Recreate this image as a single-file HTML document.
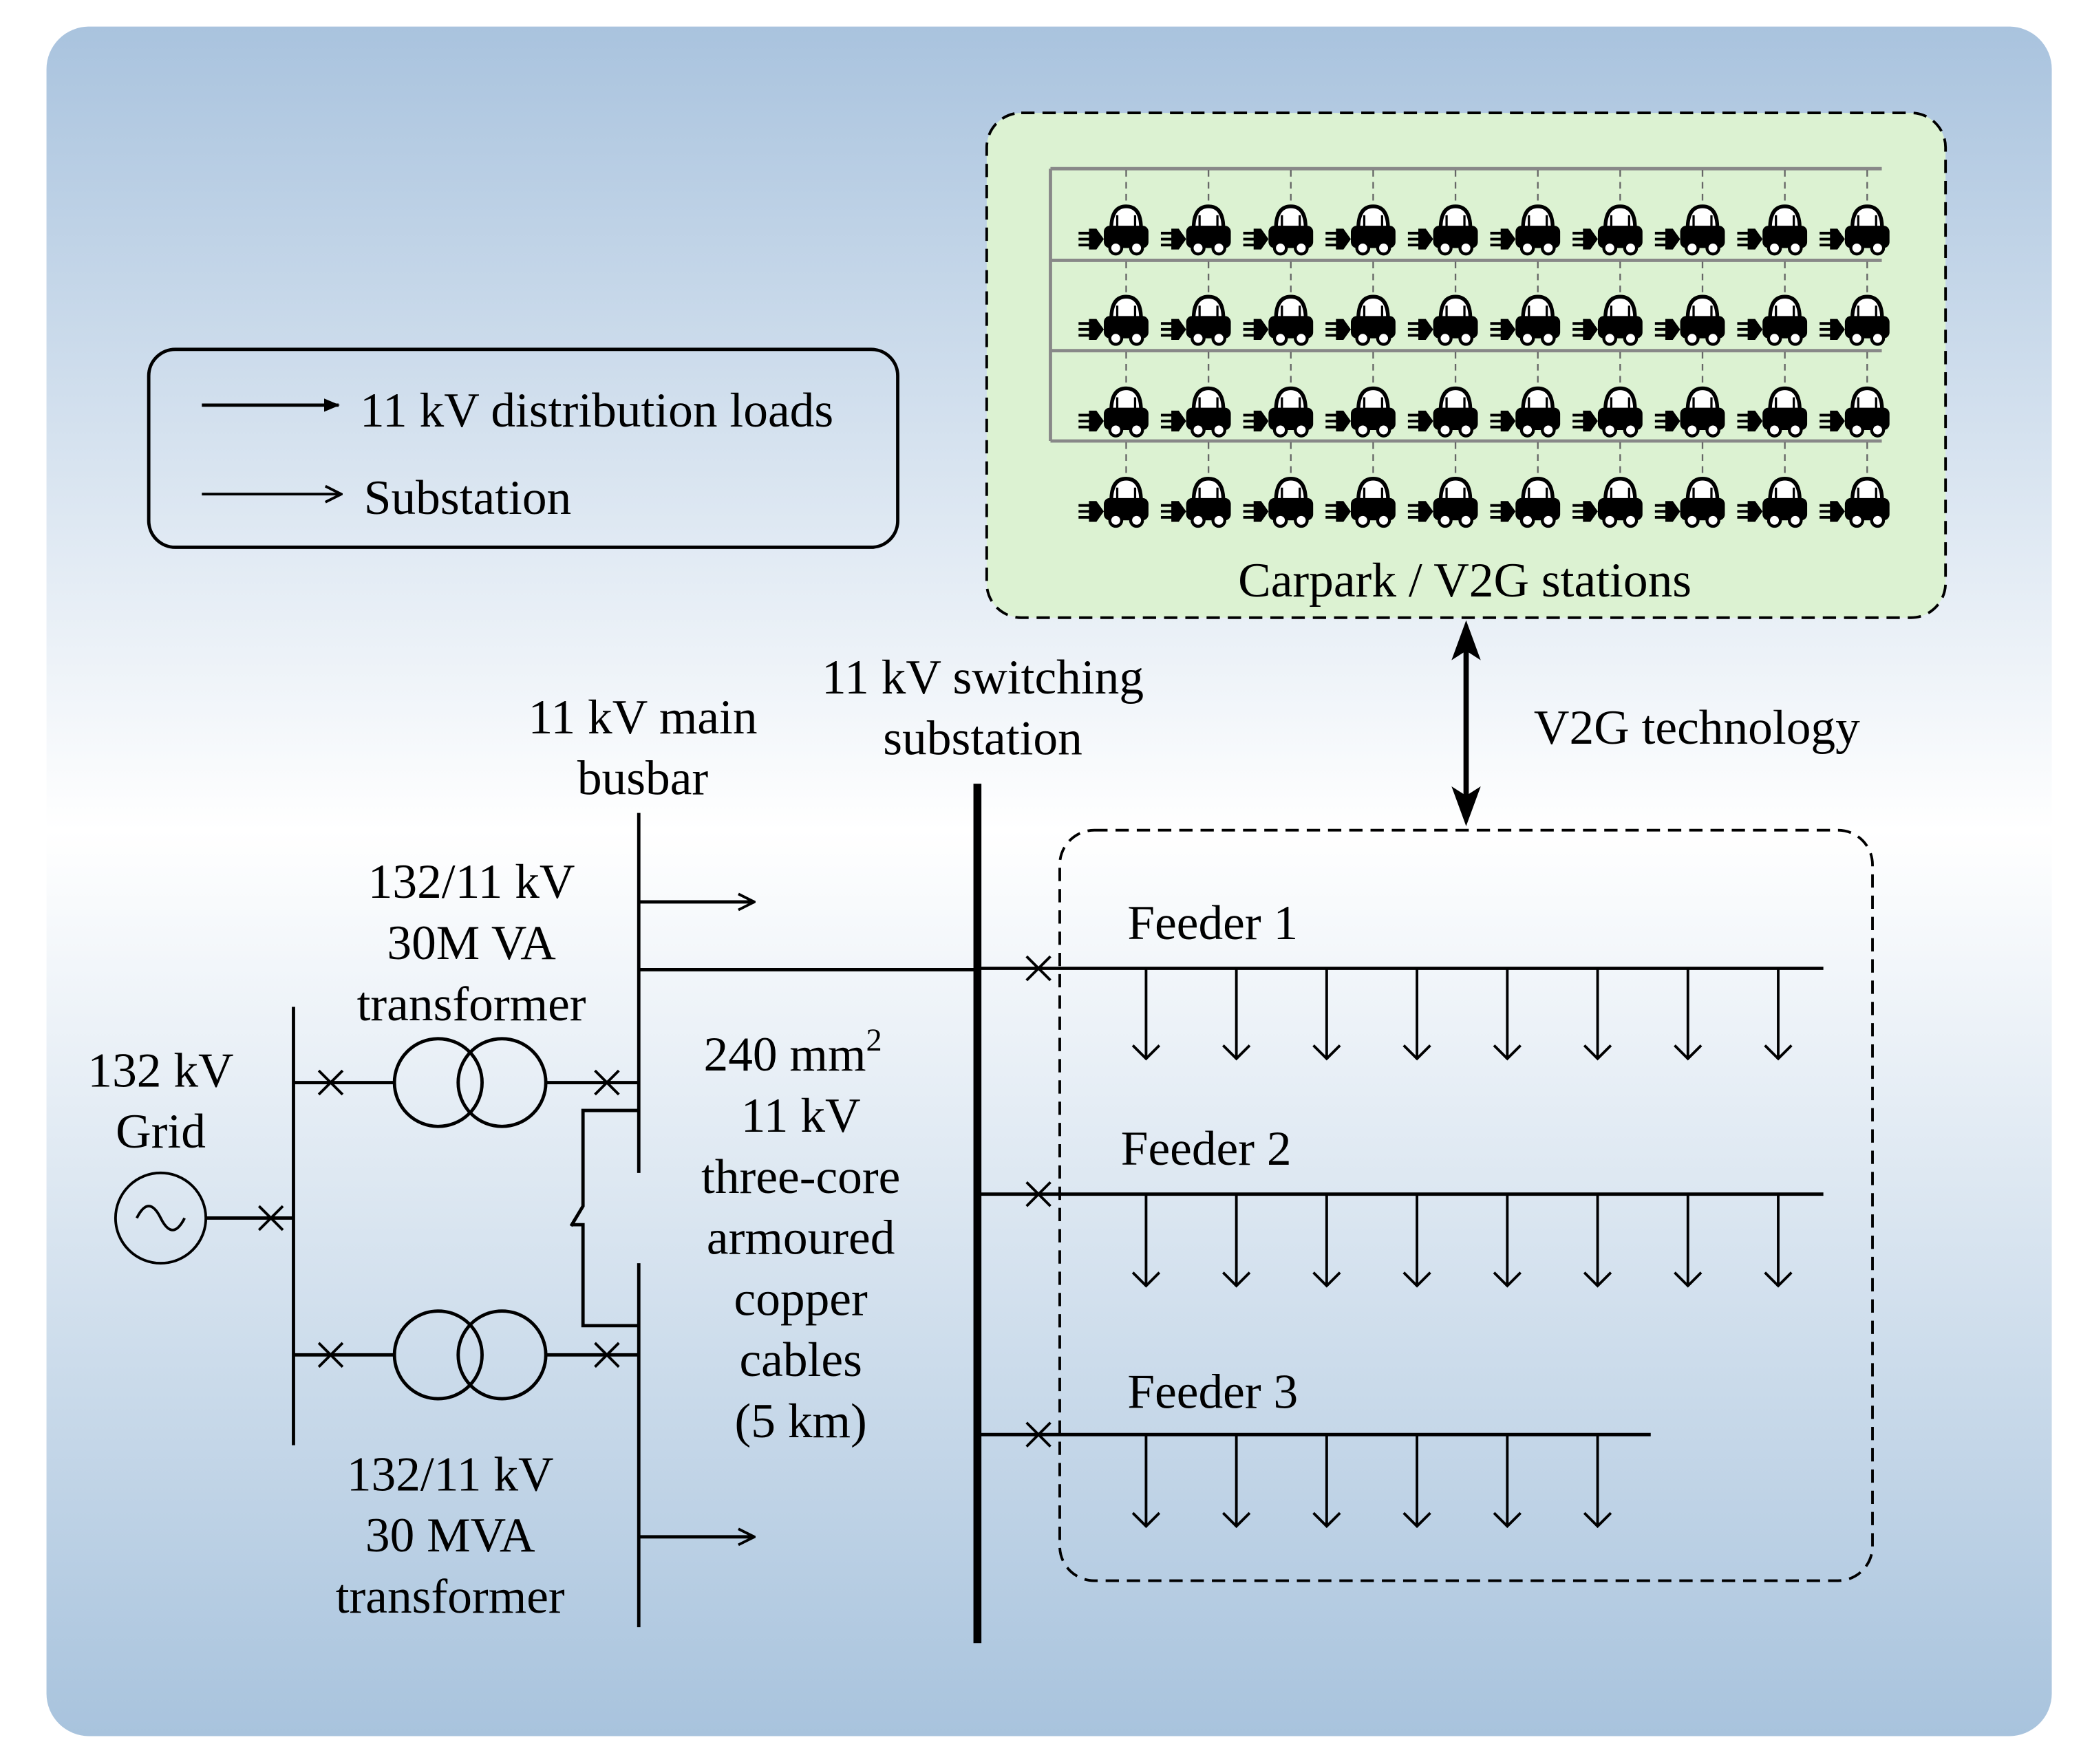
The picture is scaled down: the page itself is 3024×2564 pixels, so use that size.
<!DOCTYPE html>
<html><head><meta charset="utf-8"><style>html,body{margin:0;padding:0;background:#fff}svg{display:block}</style></head>
<body>
<svg width="3024" height="2564" viewBox="0 0 1567 1328" preserveAspectRatio="none" xmlns="http://www.w3.org/2000/svg" font-family="Liberation Serif, serif" font-size="37">
<defs>
<linearGradient id="bg" x1="0" y1="0" x2="0" y2="1">
<stop offset="0" stop-color="#a9c3de"/><stop offset="0.47" stop-color="#ffffff"/><stop offset="1" stop-color="#a8c3dd"/>
</linearGradient>
<marker id="fa" markerWidth="12" markerHeight="10" refX="11" refY="5" orient="auto" markerUnits="userSpaceOnUse"><path d="M0,0 L12,5 L0,10 Z" fill="#000"/></marker>
<marker id="oa" markerWidth="14" markerHeight="14" refX="13" refY="7" orient="auto" markerUnits="userSpaceOnUse"><path d="M1,1 L13,7 L1,13" fill="none" stroke="#000" stroke-width="2"/></marker>
<g id="car0">
<path d="M-10,-7 Q-10,-22 0,-22 Q10,-22 10,-7 Z" fill="#fff" stroke="#000" stroke-width="2.5"/>
<path d="M-6,-8 L-6,-16 M6,-8 L6,-16" stroke="#000" stroke-width="1.5"/>
<rect x="-15" y="-9" width="30" height="15" rx="4" fill="#000"/>
<circle cx="-7" cy="6" r="4" fill="#fff" stroke="#000" stroke-width="2"/>
<circle cx="7" cy="6" r="4" fill="#fff" stroke="#000" stroke-width="2"/>
<path d="M-32,-4 L-24,-4 M-32,0 L-24,0 M-32,4 L-24,4" stroke="#000" stroke-width="1.8"/>
<path d="M-25,-7 L-20,-7 L-15,0 L-20,7 L-25,7 Z" fill="#000"/>
</g>
<g id="car"><use href="#car0" transform="scale(1.12)"/></g>
</defs>
<rect x="35" y="20" width="1510" height="1287" rx="32" fill="url(#bg)"/>
<rect x="743" y="85" width="722" height="380" rx="26" fill="#dcf2d2" stroke="#000" stroke-width="2" stroke-dasharray="10,6"/>
<g stroke="#888" stroke-width="2.5" fill="none">
<path d="M791,127 H1417 M791,196 H1417 M791,264 H1417 M791,332 H1417 M791,127 V332"/>
</g>
<g stroke="#666" stroke-width="1.2" stroke-dasharray="5,4" fill="none">
<path id="cords" d="M848,128 V155 M910,128 V155 M972,128 V155 M1034,128 V155 M1096,128 V155 M1158,128 V155 M1220,128 V155 M1282,128 V155 M1344,128 V155 M1406,128 V155"/>
<use href="#cords" y="69"/><use href="#cords" y="137"/><use href="#cords" y="205"/>
</g>
<g id="row">
<use href="#car" x="848" y="180"/><use href="#car" x="910" y="180"/><use href="#car" x="972" y="180"/><use href="#car" x="1034" y="180"/><use href="#car" x="1096" y="180"/><use href="#car" x="1158" y="180"/><use href="#car" x="1220" y="180"/><use href="#car" x="1282" y="180"/><use href="#car" x="1344" y="180"/><use href="#car" x="1406" y="180"/>
</g>
<use href="#row" y="68"/><use href="#row" y="137"/><use href="#row" y="205"/>
<text x="1103" y="449" text-anchor="middle">Carpark / V2G stations</text>
<rect x="112" y="263" width="564" height="149" rx="20" fill="none" stroke="#000" stroke-width="2.5"/>
<line x1="152" y1="305" x2="255" y2="305" stroke="#000" stroke-width="2.5" marker-end="url(#fa)"/>
<line x1="152" y1="372" x2="257" y2="372" stroke="#000" stroke-width="2" marker-end="url(#oa)"/>
<text x="271" y="321">11 kV distribution loads</text>
<text x="274" y="387">Substation</text>
<line x1="1104" y1="490" x2="1104" y2="600" stroke="#000" stroke-width="4"/>
<path d="M1104,467 L1115,497 L1104,490 L1093,497 Z M1104,622 L1115,592 L1104,599 L1093,592 Z" fill="#000"/>
<text x="1155" y="560">V2G technology</text>
<rect x="798" y="625" width="612" height="565" rx="26" fill="none" stroke="#000" stroke-width="2" stroke-dasharray="10,6"/>
<g stroke="#000" stroke-width="2.5" fill="none">
<line x1="736" y1="590" x2="736" y2="1237" stroke-width="6"/>
<path d="M481,612 V883 M481,951 V1225"/>
<path d="M481,730 H736 M736,729 H1373 M736,899 H1373 M736,1080 H1243"/>
<path d="M221,758 V1088 M155,917 H221"/>
<path d="M221,815 H297 M411,815 H481 M221,1020 H297 M411,1020 H481"/>
<path d="M481,836 H439 V908 L430,923 M430,922 H439 V998 H481"/>
<circle cx="121" cy="917" r="34" stroke-width="2"/>
<path d="M103,917 Q112,899 121,917 Q130,935 139,917" stroke-width="2"/>
<circle cx="330" cy="815" r="33"/><circle cx="378" cy="815" r="33"/>
<circle cx="330" cy="1020" r="33"/><circle cx="378" cy="1020" r="33"/>
</g>
<g stroke="#000" stroke-width="2" fill="none">
<path d="M195,908 l18,18 m0,-18 l-18,18"/>
<path d="M240,806 l18,18 m0,-18 l-18,18 M448,806 l18,18 m0,-18 l-18,18"/>
<path d="M240,1011 l18,18 m0,-18 l-18,18 M448,1011 l18,18 m0,-18 l-18,18"/>
<path d="M773,720 l18,18 m0,-18 l-18,18 M773,890 l18,18 m0,-18 l-18,18 M773,1071 l18,18 m0,-18 l-18,18"/>
</g>
<g stroke="#000" stroke-width="2.5" fill="none">
<line x1="481" y1="679" x2="568" y2="679" marker-end="url(#oa)"/>
<line x1="481" y1="1157" x2="568" y2="1157" marker-end="url(#oa)"/>
</g>
<g stroke="#000" stroke-width="2" fill="none">
<path d="M863,729 V797 M931,729 V797 M999,729 V797 M1067,729 V797 M1135,729 V797 M1203,729 V797 M1271,729 V797 M1339,729 V797"/>
<path d="M853,787 l10,10 l10,-10 M921,787 l10,10 l10,-10 M989,787 l10,10 l10,-10 M1057,787 l10,10 l10,-10 M1125,787 l10,10 l10,-10 M1193,787 l10,10 l10,-10 M1261,787 l10,10 l10,-10 M1329,787 l10,10 l10,-10"/>
<path d="M863,899 V968 M931,899 V968 M999,899 V968 M1067,899 V968 M1135,899 V968 M1203,899 V968 M1271,899 V968 M1339,899 V968"/>
<path d="M853,958 l10,10 l10,-10 M921,958 l10,10 l10,-10 M989,958 l10,10 l10,-10 M1057,958 l10,10 l10,-10 M1125,958 l10,10 l10,-10 M1193,958 l10,10 l10,-10 M1261,958 l10,10 l10,-10 M1329,958 l10,10 l10,-10"/>
<path d="M863,1080 V1149 M931,1080 V1149 M999,1080 V1149 M1067,1080 V1149 M1135,1080 V1149 M1203,1080 V1149"/>
<path d="M853,1139 l10,10 l10,-10 M921,1139 l10,10 l10,-10 M989,1139 l10,10 l10,-10 M1057,1139 l10,10 l10,-10 M1125,1139 l10,10 l10,-10 M1193,1139 l10,10 l10,-10"/>
</g>
<text x="849" y="707">Feeder 1</text>
<text x="844" y="877">Feeder 2</text>
<text x="849" y="1060">Feeder 3</text>
<g text-anchor="middle">
<text x="121" y="818">132 kV</text><text x="121" y="864">Grid</text>
<text x="355" y="676">132/11 kV</text><text x="355" y="722">30M VA</text><text x="355" y="768">transformer</text>
<text x="339" y="1122">132/11 kV</text><text x="339" y="1168">30 MVA</text><text x="339" y="1214">transformer</text>
<text x="484" y="552">11 kV main</text><text x="484" y="598">busbar</text>
<text x="740" y="522">11 kV switching</text><text x="740" y="568">substation</text>
<text x="597" y="806">240 mm<tspan font-size="24" dy="-15">2</tspan></text>
<text x="603" y="852">11 kV</text><text x="603" y="898">three-core</text><text x="603" y="944">armoured</text><text x="603" y="990">copper</text><text x="603" y="1036">cables</text><text x="603" y="1082">(5 km)</text>
</g>
</svg>
</body></html>
